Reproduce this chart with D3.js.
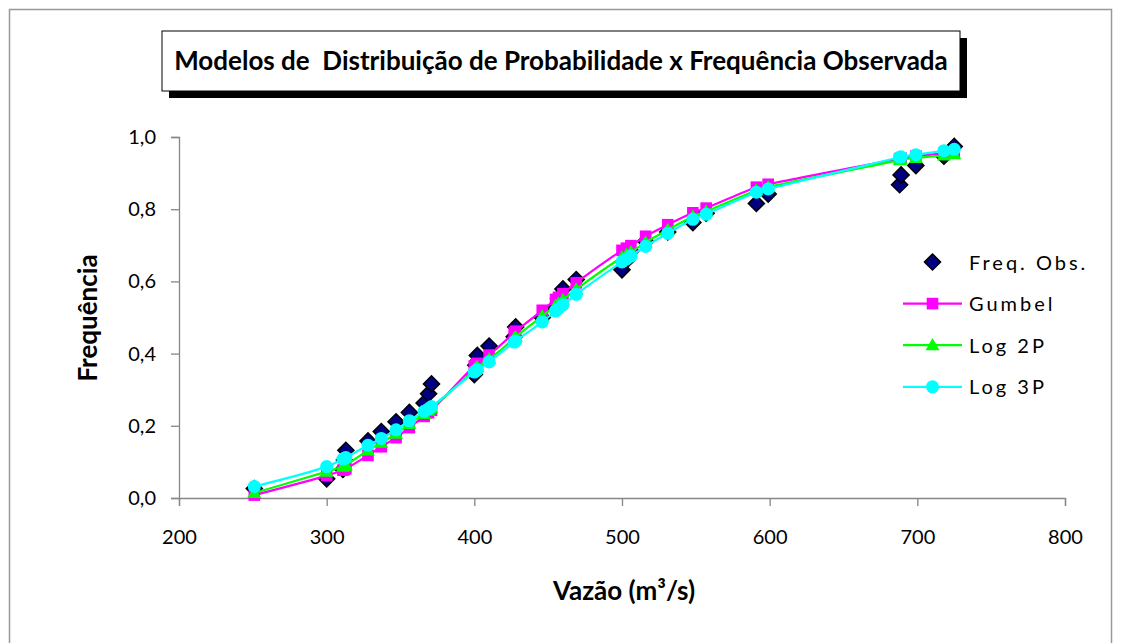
<!DOCTYPE html>
<html>
<head>
<meta charset="utf-8">
<script src="https://cdn.jsdelivr.net/npm/d3@7"></script>
<style>
  body { margin: 0; background: #fff; }
  text { font-family: Lato, "Open Sans", sans-serif; fill: #000; }
</style>
</head>
<body>
<div id="viz"></div>
<script>
/* flow values (m3/s), sorted */
var vazao = [251, 300, 311, 312, 313, 328, 337, 347, 356, 366, 369, 371, 400, 401, 402, 410, 427, 428,
             446, 455, 457, 460, 469, 500, 503, 506, 516, 531, 548, 557, 591, 599, 688, 689, 699, 718, 725];

var freqObs = [0.026, 0.053, 0.079, 0.105, 0.132, 0.158, 0.184, 0.211, 0.237, 0.263, 0.289, 0.316, 0.342,
               0.368, 0.395, 0.421, 0.447, 0.474, 0.500, 0.526, 0.553, 0.579, 0.605, 0.632, 0.658, 0.684,
               0.711, 0.737, 0.763, 0.789, 0.816, 0.842, 0.868, 0.895, 0.921, 0.947, 0.974];

var gumbel = [0.008, 0.062, 0.077, 0.079, 0.081, 0.118, 0.142, 0.167, 0.195, 0.226, 0.236, 0.243, 0.366,
              0.369, 0.373, 0.396, 0.458, 0.462, 0.520, 0.550, 0.556, 0.566, 0.596, 0.686, 0.692, 0.699,
              0.725, 0.757, 0.790, 0.803, 0.861, 0.869, 0.940, 0.941, 0.947, 0.955, 0.958];

var log2p = [0.014, 0.073, 0.087, 0.089, 0.091, 0.132, 0.153, 0.178, 0.205, 0.233, 0.242, 0.248, 0.356,
             0.360, 0.363, 0.385, 0.442, 0.446, 0.504, 0.533, 0.539, 0.549, 0.578, 0.667, 0.674, 0.681,
             0.708, 0.743, 0.780, 0.794, 0.852, 0.861, 0.936, 0.937, 0.942, 0.949, 0.952];

var log3p = [0.032, 0.087, 0.108, 0.110, 0.112, 0.146, 0.165, 0.189, 0.214, 0.240, 0.247, 0.253, 0.349,
             0.352, 0.355, 0.377, 0.432, 0.435, 0.488, 0.518, 0.525, 0.535, 0.564, 0.654, 0.662, 0.670,
             0.697, 0.733, 0.772, 0.786, 0.847, 0.856, 0.944, 0.945, 0.951, 0.962, 0.966];

var xTicks = [200, 300, 400, 500, 600, 700, 800];
var yTicks = [0, 0.2, 0.4, 0.6, 0.8, 1.0];

var seriesNames = ["Freq. Obs.", "Gumbel", "Log 2P", "Log 3P"];

var W = 1123, H = 643,
    axis_color = "#868686";

var svg = d3.select("#viz")
    .append("svg")
    .attr("width", W)
    .attr("height", H);

/* chart area border */
svg.append("rect")
    .attr("x", 9.5).attr("y", 9.5)
    .attr("width", 1102).attr("height", 660)
    .attr("fill", "none")
    .attr("stroke", "#999")
    .attr("stroke-width", 1.5);

var x = d3.scaleLinear().domain([200, 800]).range([179, 1065]);
var y = d3.scaleLinear().domain([0, 1]).range([498, 137]);

var fmt = function(d) { return d3.format(".1f")(d).replace(".", ","); };

/* axes */
var xAxis = svg.append("g")
    .attr("transform", "translate(0,498)")
    .call(d3.axisBottom(x).tickValues(xTicks).tickSize(8).tickPadding(24));
var yAxis = svg.append("g")
    .attr("transform", "translate(179,0)")
    .call(d3.axisLeft(y).tickValues(yTicks).tickFormat(fmt).tickSize(8).tickPadding(15));

[xAxis, yAxis].forEach(function(a) {
  a.select(".domain").attr("stroke", axis_color).attr("stroke-width", 1.3);
  a.selectAll(".tick line").attr("stroke", axis_color).attr("stroke-width", 1.3);
  a.selectAll(".tick text")
      .style("font-family", "Lato, 'Open Sans', sans-serif")
      .style("font-size", "20px")
      .attr("fill", "#000");
});

/* series */
var rows = vazao.map(function(v, i) {
  return { v: v, obs: freqObs[i], g: gumbel[i], l2: log2p[i], l3: log3p[i] };
});

var smooth = d3.line()
    .x(function(d) { return x(d[0]); })
    .y(function(d) { return y(d[1]); })
    .curve(d3.curveCatmullRom.alpha(0.5));

var diamond = d3.symbol().type(d3.symbolSquare).size(130);
var square = d3.symbol().type(d3.symbolSquare).size(135);
var triangle = d3.symbol().type(d3.symbolTriangle).size(85);
var circle = d3.symbol().type(d3.symbolCircle).size(135);

// observed frequency: markers only
svg.append("g").selectAll("path")
    .data(rows)
    .enter().append("path")
    .attr("d", diamond)
    .attr("transform", function(d) { return "translate(" + x(d.v) + "," + y(d.obs) + ") rotate(45)"; })
    .attr("fill", "#000080")
    .attr("stroke", "#000")
    .attr("stroke-width", 1.5);

var models = [
  { key: "g", color: "#FF00FF", sym: square, dy: 0 },
  { key: "l2", color: "#00FF00", sym: triangle, dy: 1 },
  { key: "l3", color: "#00FFFF", sym: circle, dy: 0 }
];

models.forEach(function(m) {
  var g = svg.append("g");
  g.append("path")
      .attr("d", smooth(rows.map(function(d) { return [d.v, d[m.key]]; })))
      .attr("fill", "none")
      .attr("stroke", m.color)
      .attr("stroke-width", 2.2);
  g.selectAll(".mk")
      .data(rows)
      .enter().append("path")
      .attr("class", "mk")
      .attr("d", m.sym)
      .attr("transform", function(d) { return "translate(" + x(d.v) + "," + (y(d[m.key]) + m.dy) + ")"; })
      .attr("fill", m.color);
});

/* legend */
var legend = svg.append("g").attr("transform", "translate(903,262)");
var legSyms = [
  { sym: diamond, color: "#000080", line: false, rot: 45 },
  { sym: square, color: "#FF00FF", line: true, rot: 0 },
  { sym: triangle, color: "#00FF00", line: true, rot: 0 },
  { sym: circle, color: "#00FFFF", line: true, rot: 0 }
];
seriesNames.forEach(function(name, i) {
  var row = legend.append("g").attr("transform", "translate(0," + (i * 41.6) + ")");
  var s = legSyms[i];
  if (s.line) {
    row.append("line")
        .attr("x1", 0).attr("x2", 59)
        .attr("y1", 0).attr("y2", 0)
        .attr("stroke", s.color)
        .attr("stroke-width", 2.2);
  }
  row.append("path")
      .attr("d", s.sym)
      .attr("transform", "translate(29.5," + (i == 2 ? 1 : 0) + ") rotate(" + s.rot + ")")
      .attr("fill", s.color)
      .attr("stroke", i == 0 ? "#000" : "none")
      .attr("stroke-width", 1.5);
  row.append("text")
      .attr("x", 66)
      .attr("y", 7.5)
      .style("font-size", "20px")
      .style("letter-spacing", "3px")
      .text(name);
});

/* axis titles */
svg.append("text")
    .attr("x", 624)
    .attr("y", 600)
    .attr("text-anchor", "middle")
    .style("font-size", "26px")
    .style("font-weight", "bold")
    .text("Vazão (m³/s)");

svg.append("text")
    .attr("transform", "translate(97,318) rotate(-90)")
    .attr("text-anchor", "middle")
    .style("font-size", "26px")
    .style("font-weight", "bold")
    .text("Frequência");

/* title box with shadow */
var tb = { x: 162, y: 31, w: 798, h: 60 };
svg.append("rect")
    .attr("x", tb.x + 7).attr("y", tb.y + 7)
    .attr("width", tb.w).attr("height", tb.h)
    .attr("fill", "#000");
svg.append("rect")
    .attr("x", tb.x).attr("y", tb.y)
    .attr("width", tb.w).attr("height", tb.h)
    .attr("fill", "#fff")
    .attr("stroke", "#000")
    .attr("stroke-width", 1);
svg.append("text")
    .attr("x", tb.x + tb.w / 2)
    .attr("y", tb.y + 39)
    .attr("text-anchor", "middle")
    .style("font-size", "26px")
    .style("font-weight", "bold")
    .style("white-space", "pre")
    .text("Modelos de  Distribuição de Probabilidade x Frequência Observada");
</script>
</body>
</html>
